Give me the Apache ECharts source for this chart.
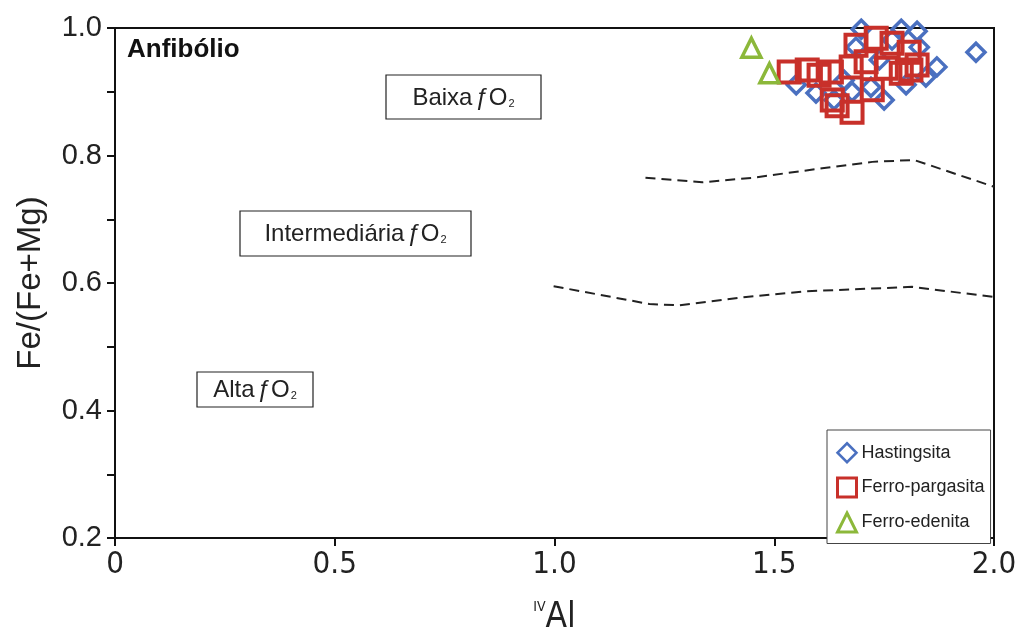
<!DOCTYPE html>
<html>
<head>
<meta charset="utf-8">
<script src="https://cdn.jsdelivr.net/npm/echarts@6/dist/echarts.min.js"></script>
<style>
  html, body { margin: 0; padding: 0; background: #fff; }
  #chart { width: 1025px; height: 644px; }
</style>
</head>
<body>
<div id="chart"></div>
<script>
// Amphibole compositions: [IVAl, Fe/(Fe+Mg)]
const hastingsita = [
  [1.959, 0.962], [1.698, 0.998], [1.789, 0.998], [1.825, 0.995],
  [1.686, 0.970], [1.830, 0.970], [1.870, 0.939], [1.550, 0.911],
  [1.595, 0.898], [1.636, 0.887], [1.677, 0.900], [1.720, 0.907],
  [1.750, 0.887], [1.800, 0.911], [1.845, 0.923], [1.659, 0.918],
  [1.768, 0.981], [1.739, 0.950]
];
const ferroPargasita = [
  [1.534, 0.931], [1.575, 0.934], [1.602, 0.926], [1.630, 0.931],
  [1.675, 0.939], [1.709, 0.947], [1.755, 0.937], [1.789, 0.929],
  [1.811, 0.934], [1.686, 0.973], [1.732, 0.984], [1.768, 0.976],
  [1.807, 0.962], [1.825, 0.942], [1.632, 0.887], [1.677, 0.868],
  [1.723, 0.903], [1.643, 0.878]
];
const ferroEdenita = [
  [1.448, 0.969], [1.489, 0.929]
];

// Boundaries between the fO2 fields
const upperBoundary = [
  [1.207, 0.765], [1.336, 0.758], [1.450, 0.765], [1.609, 0.780],
  [1.723, 0.790], [1.818, 0.793], [2.000, 0.751]
];
const lowerBoundary = [
  [0.998, 0.595], [1.216, 0.567], [1.284, 0.565], [1.436, 0.578],
  [1.573, 0.587], [1.814, 0.594], [2.000, 0.578]
];

const seriesNames = ['Hastingsita', 'Ferro-pargasita', 'Ferro-edenita'];
const xTickLabels = ['0', '0.5', '1.0', '1.5', '2.0'];
const yTickLabels = ['0.2', '0.4', '0.6', '0.8', '1.0'];

const SANS = "'Liberation Sans', Arial, Helvetica, sans-serif";
const NARROW = "'Liberation Sans Narrow', 'Arial Narrow', 'DejaVu Sans Condensed', sans-serif";
const BLUE = '#4a70c0', RED = '#c8302a', GREEN = '#8cb83a';

const chart = echarts.init(document.getElementById('chart'), null, { renderer: 'canvas' });

function fieldLabel(prefix, cx, cy, w, h) {
  return {
    type: 'group',
    children: [
      { type: 'rect', shape: { x: cx - w / 2, y: cy - h / 2, width: w, height: h },
        style: { fill: '#fff', stroke: '#222', lineWidth: 1.2 }, z: 5 },
      { type: 'text', x: cx, y: cy + 1, z: 6,
        style: {
          text: '{t|' + prefix + '}{f|ƒ}{t|O}{s|2}',
          align: 'center', verticalAlign: 'middle',
          rich: {
            t: { fontSize: 24, fontFamily: SANS, fill: '#222', lineHeight: 28, verticalAlign: 'middle' },
            f: { fontSize: 24, fontFamily: SANS, fontStyle: 'italic', fill: '#222', lineHeight: 28, padding: [0, 1, 0, 2] },
            s: { fontSize: 11, fontFamily: SANS, fill: '#222', lineHeight: 28, verticalAlign: 'bottom', padding: [0, 0, 3, 1] }
          }
        } }
    ]
  };
}

const option = {
  animation: false,
  backgroundColor: '#fff',
  grid: {
    left: 115, right: 31, top: 28, bottom: 106,
    show: true, borderColor: '#111', borderWidth: 2, backgroundColor: 'transparent'
  },
  xAxis: {
    type: 'value', min: 0, max: 2, interval: 0.5,
    axisLine: { show: true, onZero: false, lineStyle: { color: '#111', width: 2 } },
    axisTick: { show: true, inside: false, length: 8, lineStyle: { color: '#111', width: 2 } },
    splitLine: { show: false },
    axisLabel: {
      margin: 11, fontSize: 31, fontFamily: NARROW, color: '#222',
      formatter: (v, i) => xTickLabels[i]
    },
    name: '{sup|IV}{al|Al}',
    nameLocation: 'middle', nameGap: 62,
    nameTextStyle: {
      rich: {
        sup: { fontSize: 14, fontFamily: NARROW, color: '#222', verticalAlign: 'top', lineHeight: 36 },
        al: { fontSize: 35, fontFamily: NARROW, color: '#222', lineHeight: 36 }
      }
    }
  },
  yAxis: {
    type: 'value', min: 0.2, max: 1.0, interval: 0.2,
    axisLine: { show: true, onZero: false, lineStyle: { color: '#111', width: 2 } },
    axisTick: { show: true, inside: false, length: 8, lineStyle: { color: '#111', width: 2 } },
    minorTick: { show: true, splitNumber: 2, length: 8, lineStyle: { color: '#111', width: 2 } },
    splitLine: { show: false },
    axisLabel: {
      margin: 13, fontSize: 29, fontFamily: SANS, color: '#222',
      formatter: (v, i) => yTickLabels[i]
    },
    name: 'Fe/(Fe+Mg)',
    nameLocation: 'middle', nameGap: 68,
    nameTextStyle: { fontSize: 33, fontFamily: SANS, color: '#222' }
  },
  legend: {
    orient: 'vertical', left: 827, top: 430,
    padding: [12, 6, 10, 9], itemGap: 13, itemWidth: 19, itemHeight: 19,
    borderColor: '#444', borderWidth: 1, backgroundColor: '#fff',
    textStyle: { fontSize: 18, fontFamily: SANS, color: '#222' },
    data: [
      { name: seriesNames[0], icon: 'diamond', itemStyle: { color: 'rgba(0,0,0,0)', borderColor: BLUE, borderWidth: 2.5, opacity: 1 } },
      { name: seriesNames[1], icon: 'rect', itemStyle: { color: 'rgba(0,0,0,0)', borderColor: RED, borderWidth: 3, opacity: 1 } },
      { name: seriesNames[2], icon: 'triangle', itemStyle: { color: 'rgba(0,0,0,0)', borderColor: GREEN, borderWidth: 3, opacity: 1 } }
    ]
  },
  series: [
    {
      type: 'line', data: upperBoundary, symbol: 'none', silent: true, z: 1,
      lineStyle: { color: '#222', width: 2, type: [10, 6] }
    },
    {
      type: 'line', data: lowerBoundary, symbol: 'none', silent: true, z: 1,
      lineStyle: { color: '#222', width: 2, type: [10, 6] }
    },
    {
      name: seriesNames[0], type: 'scatter', data: hastingsita, clip: false,
      symbol: 'diamond', symbolSize: 18,
      itemStyle: { color: 'rgba(0,0,0,0)', borderColor: BLUE, borderWidth: 3.5, opacity: 1 }
    },
    {
      name: seriesNames[1], type: 'scatter', data: ferroPargasita, clip: false,
      symbol: 'rect', symbolSize: 21,
      itemStyle: { color: 'rgba(0,0,0,0)', borderColor: RED, borderWidth: 4, opacity: 1 }
    },
    {
      name: seriesNames[2], type: 'scatter', data: ferroEdenita, clip: false,
      symbol: 'triangle', symbolSize: 19,
      itemStyle: { color: 'rgba(0,0,0,0)', borderColor: GREEN, borderWidth: 3.5, opacity: 1 }
    }
  ],
  graphic: [
    { type: 'text', x: 127, y: 50, z: 6,
      style: { text: 'Anfibólio', fontSize: 26, fontWeight: 'bold', fontFamily: SANS, fill: '#111', align: 'left', verticalAlign: 'middle' } },
    fieldLabel('Baixa', 463.5, 97, 155, 44),
    fieldLabel('Intermediária', 355.5, 233.5, 231, 45),
    fieldLabel('Alta', 255, 389.5, 116, 35)
  ]
};

chart.setOption(option);
</script>
</body>
</html>
